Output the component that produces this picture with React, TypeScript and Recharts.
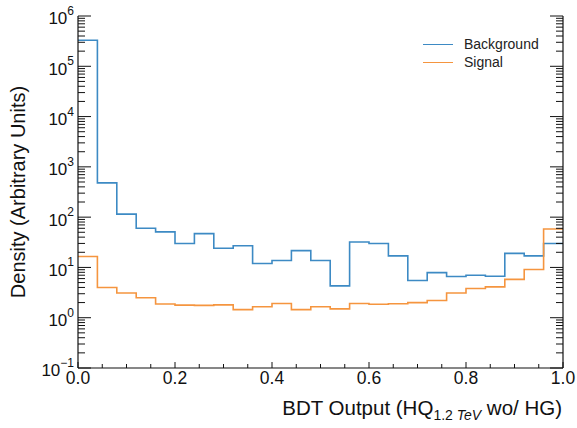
import React from "react";
import { LineChart, Line, XAxis, YAxis } from "recharts";

// bin edges of the BDT output histogram (25 bins, last edge repeats final value)
const BIN_EDGES = [
  0.0, 0.04, 0.08, 0.12, 0.16, 0.2, 0.24, 0.28, 0.32, 0.36, 0.4, 0.44, 0.48,
  0.52, 0.56, 0.6, 0.64, 0.68, 0.72, 0.76, 0.8, 0.84, 0.88, 0.92, 0.96, 1.0,
];

const BACKGROUND = [
  330000, 480, 115, 60, 51, 30, 47, 24, 27, 12, 13.7, 21.6, 13.7, 4.3, 32, 30,
  17, 5.5, 7.9, 6.6, 7.0, 6.7, 19, 17, 30,
];

const SIGNAL = [
  16.5, 4.0, 3.1, 2.5, 1.87, 1.78, 1.76, 1.8, 1.45, 1.65, 1.92, 1.45, 1.65, 1.5,
  1.92, 1.85, 1.9, 2.0, 2.2, 3.1, 3.8, 4.1, 5.8, 9.1, 58,
];

const X_TICKS = [
  0, 0.05, 0.1, 0.15, 0.2, 0.25, 0.3, 0.35, 0.4, 0.45, 0.5, 0.55, 0.6, 0.65,
  0.7, 0.75, 0.8, 0.85, 0.9, 0.95, 1.0,
];
const X_MAJOR = [0, 0.2, 0.4, 0.6, 0.8, 1.0];
const X_LABELS = ["0.0", "0.2", "0.4", "0.6", "0.8", "1.0"];

const Y_DECADES = [0.1, 1, 10, 100, 1000, 10000, 100000, 1000000];
const Y_TICKS = Y_DECADES.flatMap((d, i) =>
  i === Y_DECADES.length - 1 ? [d] : [1, 2, 3, 4, 5, 6, 7, 8, 9].map((m) => d * m)
);

const SERIES = [
  { key: "bkg", name: "Background", color: "#3d8ac4" },
  { key: "sig", name: "Signal", color: "#f5953f" },
];

const data = BIN_EDGES.map((x, i) => ({
  x,
  bkg: BACKGROUND[Math.min(i, BACKGROUND.length - 1)],
  sig: SIGNAL[Math.min(i, SIGNAL.length - 1)],
}));

const FONT = "'Liberation Sans', Arial, Helvetica, sans-serif";
const INK = "#111";

const majorIndex = (v: number) => X_MAJOR.findIndex((m) => Math.abs(m - v) < 1e-6);

const BottomTick = ({ x, y, payload }: any) => {
  const idx = majorIndex(payload.value);
  return (
    <g>
      <line x1={x} x2={x} y1={y} y2={y - (idx >= 0 ? 6 : 4)} stroke={INK} strokeWidth={1} />
      {idx >= 0 && (
        <text x={x} y={y + 11} textAnchor="middle" dominantBaseline="middle" fontSize={17.5} fill={INK} fontFamily={FONT}>
          {X_LABELS[idx]}
        </text>
      )}
    </g>
  );
};

const TopTick = ({ x, y, payload }: any) => {
  const major = majorIndex(payload.value) >= 0;
  return <line x1={x} x2={x} y1={y} y2={y + (major ? 6 : 4)} stroke={INK} strokeWidth={1} />;
};

const expOf = (v: number) => {
  const l = Math.log10(v);
  const e = Math.round(l);
  return { e, major: Math.abs(l - e) < 1e-6 };
};

const LeftTick = ({ x, y, payload }: any) => {
  const { e, major } = expOf(payload.value);
  return (
    <g>
      <line x1={x} x2={x + (major ? 13 : 7)} y1={y} y2={y} stroke={INK} strokeWidth={1} />
      {major && (
        <text x={x - 4} y={y + 4} textAnchor="end" dominantBaseline="middle" fontSize={17} fill={INK} fontFamily={FONT}>
          10
          <tspan dy={-8} fontSize={12}>
            {e < 0 ? "\u2212" + -e : String(e)}
          </tspan>
        </text>
      )}
    </g>
  );
};

const RightTick = ({ x, y, payload }: any) => {
  const { major } = expOf(payload.value);
  return <line x1={x} x2={x - (major ? 13 : 7)} y1={y} y2={y} stroke={INK} strokeWidth={1} />;
};

const XTitle = () => (
  <text x={562} y={415} textAnchor="end" fontSize={20.5} fill={INK} fontFamily={FONT}>
    BDT Output (HQ
    <tspan dy={5} fontSize={14}>
      1.2 <tspan fontStyle="italic">TeV</tspan>
    </tspan>
    <tspan dy={-5}> wo/ HG)</tspan>
  </text>
);

const YTitle = () => (
  <text
    x={20}
    y={192}
    transform="rotate(-90 20 192)"
    textAnchor="middle"
    dominantBaseline="middle"
    fontSize={20}
    fill={INK}
    fontFamily={FONT}
  >
    Density (Arbitrary Units)
  </text>
);

export default function App() {
  return (
    <div style={{ position: "absolute", left: 0, top: 0, width: 577, height: 428, background: "#fff" }}>
      <LineChart width={577} height={428} data={data} margin={{ top: 16, right: 0, bottom: 0, left: 0 }}>
        <XAxis
          xAxisId="b"
          dataKey="x"
          type="number"
          domain={[0, 1]}
          ticks={X_TICKS}
          interval={0}
          tickSize={0}
          tickMargin={0}
          tickLine={false}
          tick={<BottomTick />}
          axisLine={{ stroke: INK, strokeWidth: 1.2 }}
          height={60}
          label={{ content: () => <XTitle /> }}
        />
        <XAxis
          xAxisId="t"
          orientation="top"
          dataKey="x"
          type="number"
          domain={[0, 1]}
          ticks={X_TICKS}
          interval={0}
          tickSize={0}
          tickMargin={0}
          tickLine={false}
          tick={<TopTick />}
          axisLine={{ stroke: INK, strokeWidth: 1.2 }}
          height={0}
        />
        <YAxis
          yAxisId="l"
          scale="log"
          type="number"
          domain={[0.1, 1000000]}
          allowDataOverflow
          ticks={Y_TICKS}
          interval={0}
          tickSize={0}
          tickMargin={0}
          tickLine={false}
          tick={<LeftTick />}
          axisLine={{ stroke: INK, strokeWidth: 1.2 }}
          width={78}
          label={{ content: () => <YTitle /> }}
        />
        <YAxis
          yAxisId="r"
          orientation="right"
          scale="log"
          type="number"
          domain={[0.1, 1000000]}
          allowDataOverflow
          ticks={Y_TICKS}
          interval={0}
          tickSize={0}
          tickMargin={0}
          tickLine={false}
          tick={<RightTick />}
          axisLine={{ stroke: INK, strokeWidth: 1.2 }}
          width={14}
        />
        {SERIES.map((s) => (
          <Line
            key={s.key}
            xAxisId="b"
            yAxisId="l"
            dataKey={s.key}
            name={s.name}
            type="stepAfter"
            stroke={s.color}
            strokeWidth={1.6}
            dot={false}
            activeDot={false}
            isAnimationActive={false}
          />
        ))}
      </LineChart>
      <div style={{ position: "absolute", left: 423, top: 35, fontFamily: FONT, fontSize: 14, color: "#222", lineHeight: "18px" }}>
        {SERIES.map((s) => (
          <div key={s.key} style={{ display: "flex", alignItems: "center" }}>
            <span style={{ display: "inline-block", width: 30, borderTop: `1.6px solid ${s.color}`, marginRight: 11 }} />
            <span>{s.name}</span>
          </div>
        ))}
      </div>
    </div>
  );
}
